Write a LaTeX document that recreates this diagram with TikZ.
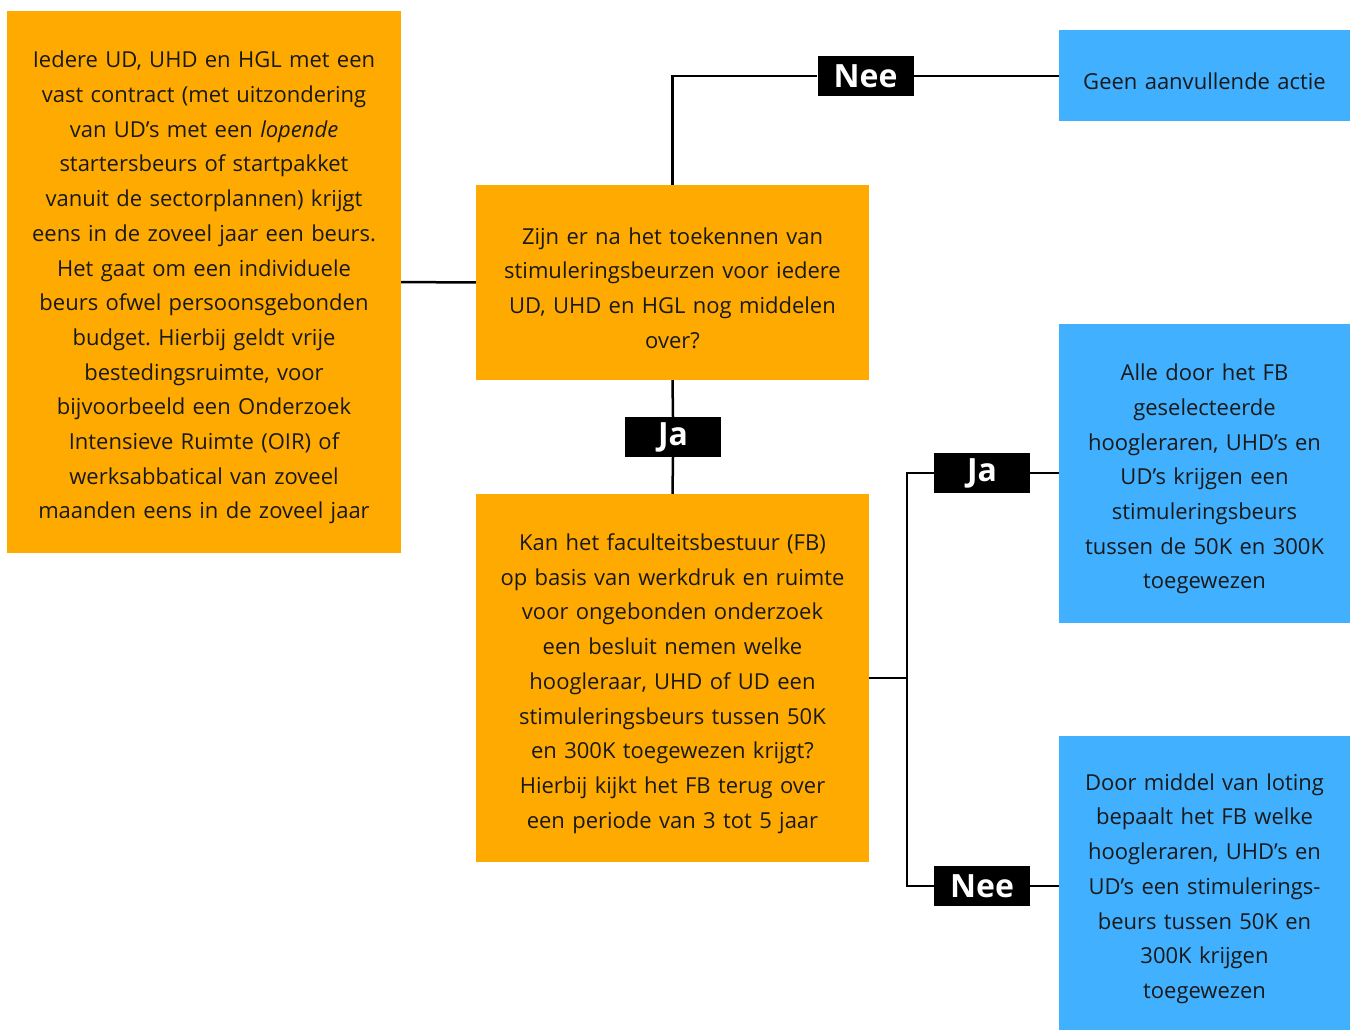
\documentclass[tikz,border=0pt]{standalone}
\usepackage{fontspec}
\setmainfont{Open Sans}
\usepackage{xcolor}
\definecolor{oranje}{RGB}{255,170,0}
\definecolor{blauw}{RGB}{64,176,255}
\frenchspacing

\begin{document}
\begin{tikzpicture}[x=1pt,y=-1pt]
    \tikzstyle{vak} = [rectangle, inner sep=0pt, align=center, text=black!90, text height=28pt, font=\fontsize{22}{34.7}\selectfont]
    \tikzstyle{vraag} = [vak, fill=oranje]
    \tikzstyle{actie} = [vak, fill=blauw]
    \tikzstyle{lbl} = [fill=black, text=white, inner sep=0pt, minimum width=96pt, minimum height=40pt, font=\fontsize{32}{32}\selectfont\bfseries]
    \tikzstyle{e} = [draw, line width=2.5pt]
    \useasboundingbox (0,0) rectangle (1350,1030);
    % vragen
    \node[vraag, text width=394pt, minimum height=542pt] (start) at (204,282) {Iedere UD, UHD en HGL met een\\ vast contract (met uitzondering\\ van UD’s met een \textit{lopende}\\ startersbeurs of startpakket\\ vanuit de sectorplannen) krijgt\\ eens in de zoveel jaar een beurs.\\ Het gaat om een individuele\\ beurs ofwel persoonsgebonden\\ budget. Hierbij geldt vrije\\ bestedingsruimte, voor\\ bijvoorbeeld een Onderzoek\\ Intensieve Ruimte (OIR) of\\ werksabbatical van zoveel\\ maanden eens in de zoveel jaar};
    \node[vraag, text width=393pt, minimum height=195pt] (over) at (672.5,282.5) {Zijn er na het toekennen van\\ stimuleringsbeurzen voor iedere\\ UD, UHD en HGL nog middelen\\ over?};
    \node[vraag, text width=393pt, minimum height=368pt] (fb) at (672.5,678) {Kan het faculteitsbestuur (FB)\\ op basis van werkdruk en ruimte\\ voor ongebonden onderzoek\\ een besluit nemen welke\\ hoogleraar, UHD of UD een\\ stimuleringsbeurs tussen 50K\\ en 300K toegewezen krijgt?\\ Hierbij kijkt het FB terug over\\ een periode van 3 tot 5 jaar};
    % acties
    \node[actie, text width=291pt, minimum height=91pt] (geen) at (1204.5,75.5) {Geen aanvullende actie};
    \node[actie, text width=291pt, minimum height=299pt] (selectie) at (1204.5,473.5) {Alle door het FB\\ geselecteerde\\ hoogleraren, UHD’s en\\ UD’s krijgen een\\ stimuleringsbeurs\\ tussen de 50K en 300K\\ toegewezen};
    \node[actie, text width=291pt, minimum height=294pt] (loting) at (1204.5,883) {Door middel van loting\\ bepaalt het FB welke\\ hoogleraren, UHD’s en\\ UD’s een stimulerings-\\ beurs tussen 50K en\\ 300K krijgen\\ toegewezen};
    % labels
    \node[lbl] (nee1) at (865.5,76) {Nee};
    \node[lbl] (ja1) at (673,437) {Ja};
    \node[lbl] (ja2) at (982,473) {Ja};
    \node[lbl] (nee2) at (982,886) {Nee};
    \coordinate (split) at (907,678);
    % verbindingen
    \draw [e] (start) -- (over);
    \draw [e] (over.north) |- (nee1.west);
    \draw [e] (nee1.east) -- (nee1 -| geen.west);
    \draw [e] (over.south) -- (ja1.north);
    \draw [e] (ja1.south) -- (fb.north);
    \draw [e] (fb.east) -- (split);
    \draw [e] (split) |- (ja2.west);
    \draw [e] (ja2.east) -- (ja2 -| selectie.west);
    \draw [e] (split) |- (nee2.west);
    \draw [e] (nee2.east) -- (nee2 -| loting.west);
\end{tikzpicture}
\end{document}
